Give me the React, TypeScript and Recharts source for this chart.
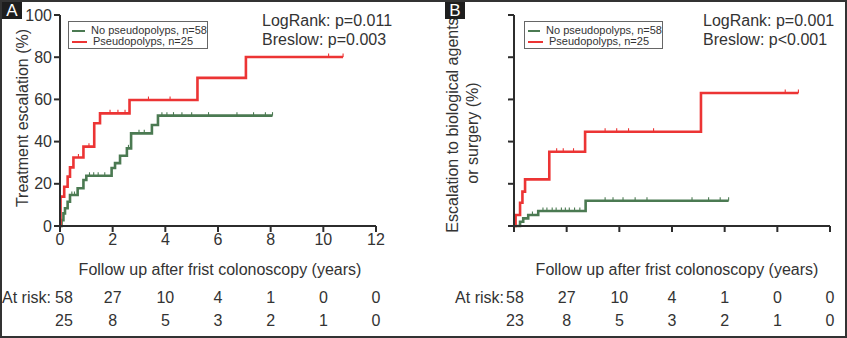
import React from 'react';
import { LineChart, Line, XAxis, YAxis } from 'recharts';

const RED = '#ec3434';
const GREEN = '#4b7a52';
const AXIS = '#2c2c2c';
const TEXT = '#333333';
const FONT = '"Liberation Sans", Arial, sans-serif';

const xTicks = [0, 2, 4, 6, 8, 10, 12];
const yTicks = [0, 20, 40, 60, 80, 100];

// Panel A: treatment escalation (step times in years, cumulative %)
const aNoTime = [0, 0.06, 0.13, 0.19, 0.29, 0.38, 0.67, 0.89, 1.0, 1.96, 2.09, 2.28, 2.54, 2.7, 3.49, 3.72, 8.07];
const aNoPct = [0, 2.8, 6, 8.4, 11.5, 14.7, 17.9, 21.8, 23.8, 27.5, 29.8, 33.3, 36.8, 43.9, 47.9, 52.3, 52.3];
const aNoCensor = [0.45, 0.55, 1.12, 1.28, 1.45, 1.7, 2.6, 3.0, 3.2, 3.87, 4.06, 4.31, 4.63, 5.0, 5.64, 6.72, 7.35, 7.8, 8.07];
const aPsTime = [0, 0.02, 0.16, 0.29, 0.38, 0.51, 0.89, 1.3, 1.52, 2.64, 5.22, 7.06, 10.75];
const aPsPct = [0, 13.9, 18.6, 23.4, 27.8, 32.5, 37.6, 48.7, 53.4, 59.7, 70.2, 80.1, 80.1];
const aPsCensor = [0.7, 1.1, 1.9, 2.2, 2.47, 3.36, 4.18, 10.2, 10.75];

// Panel B: escalation to biological agents or surgery
const bNoTime = [0, 0.23, 0.35, 0.54, 0.92, 2.72, 8.15];
const bNoPct = [0, 2, 3.6, 5.2, 7.1, 12, 12];
const bNoCensor = [0.7, 1.1, 1.25, 1.45, 1.6, 1.8, 1.95, 2.1, 2.3, 2.5, 3.46, 3.76, 4.14, 4.6, 5.05, 6.76, 7.39, 7.83, 8.15];
const bPsTime = [0, 0.06, 0.23, 0.32, 0.42, 1.34, 2.7, 7.1, 10.8];
const bPsPct = [0, 5.2, 11, 16.3, 22.1, 35.2, 44.7, 63, 63];
const bPsCensor = [1.62, 1.87, 2.26, 3.46, 3.9, 4.35, 5.3, 10.3, 10.8];

// numbers at risk
const riskA1 = ['58', '27', '10', '4', '1', '0', '0'];
const riskA2 = ['25', '8', '5', '3', '2', '1', '0'];
const riskB1 = ['58', '27', '10', '4', '1', '0', '0'];
const riskB2 = ['23', '8', '5', '3', '2', '1', '0'];

const noLabel = 'No pseudopolyps, n=58';
const psLabel = 'Pseudopolyps, n=25';

type Pt = { t: number; y: number; c: boolean };

const build = (times: number[], pcts: number[], censor: number[]): Pt[] => {
  const pts: Pt[] = times.map((t, i) => ({ t, y: pcts[i], c: false }));
  censor.forEach((t) => {
    let y = 0;
    times.forEach((s, i) => {
      if (s <= t) y = pcts[i];
    });
    pts.push({ t, y, c: true });
  });
  return pts.sort((a, b) => a.t - b.t);
};

const CensorDot = (props: any) => {
  const { cx, cy, payload, stroke, index } = props;
  if (!payload || !payload.c) return <g key={`n${index}`} />;
  return <line key={`c${index}`} x1={cx} x2={cx} y1={cy - 3.5} y2={cy} stroke={stroke} strokeWidth={1.1} />;
};

const EmptyTick = (props: any) => <g key={`e${props.index}`} />;

interface PanelProps {
  left: number;
  marginLeft: number;
  marginRight: number;
  labels: boolean;
  green: Pt[];
  red: Pt[];
}

const KmPanel: React.FC<PanelProps> = ({ left, marginLeft, marginRight, labels, green, red }) => (
  <div style={{ position: 'absolute', left, top: 0 }}>
    <LineChart width={420} height={260} margin={{ top: 15, right: marginRight, bottom: 0, left: marginLeft }}>
      <XAxis
        type="number"
        dataKey="t"
        domain={[0, 12]}
        ticks={xTicks}
        height={34}
        tickSize={6}
        tick={labels ? { fill: TEXT, fontSize: 16 } : EmptyTick}
        axisLine={{ stroke: AXIS, strokeWidth: 2 }}
        tickLine={{ stroke: AXIS, strokeWidth: 2 }}
        allowDuplicatedCategory={false}
      />
      <YAxis
        type="number"
        domain={[0, 100]}
        ticks={yTicks}
        width={60}
        tickSize={6}
        tick={labels ? { fill: TEXT, fontSize: 16 } : EmptyTick}
        axisLine={{ stroke: AXIS, strokeWidth: 2 }}
        tickLine={{ stroke: AXIS, strokeWidth: 2 }}
      />
      <Line data={green} dataKey="y" type="stepAfter" stroke={GREEN} strokeWidth={2.6} dot={CensorDot} activeDot={false} isAnimationActive={false} />
      <Line data={red} dataKey="y" type="stepAfter" stroke={RED} strokeWidth={2.6} dot={CensorDot} activeDot={false} isAnimationActive={false} />
    </LineChart>
  </div>
);

const KmLegend: React.FC<{ left: number; width: number }> = ({ left, width }) => (
  <div
    style={{
      position: 'absolute', left, top: 21, width, height: 28, boxSizing: 'border-box',
      border: '1px solid #666', background: '#fff', fontSize: 11, color: TEXT, lineHeight: '11px', paddingTop: 3,
      whiteSpace: 'nowrap',
    }}
  >
    {[[GREEN, noLabel], [RED, psLabel]].map(([c, l]) => (
      <div key={l} style={{ display: 'flex', alignItems: 'center', height: 11 }}>
        <span style={{ display: 'inline-block', width: 15, height: 2, background: c, marginLeft: 3, marginRight: 6 }} />
        <span>{l}</span>
      </div>
    ))}
  </div>
);

const colX = (plotLeft: number, i: number) => plotLeft + (xTicks[i] / 12) * 316;

export default function App() {
  return (
    <div style={{ position: 'absolute', left: 0, top: 0, width: 847, height: 338, background: '#fff', fontFamily: FONT, overflow: 'hidden' }}>
      <KmPanel left={0} marginLeft={0} marginRight={44} labels green={build(aNoTime, aNoPct, aNoCensor)} red={build(aPsTime, aPsPct, aPsCensor)} />
      <KmPanel left={420} marginLeft={34} marginRight={10} labels={false} green={build(bNoTime, bNoPct, bNoCensor)} red={build(bPsTime, bPsPct, bPsCensor)} />
      <KmLegend left={68} width={140} />
      <KmLegend left={524} width={139} />
      <svg width={847} height={338} style={{ position: 'absolute', left: 0, top: 0, pointerEvents: 'none' }}>
        <g fill={TEXT} fontSize={16}>
          <text transform="translate(22,118) rotate(-90)" textAnchor="middle" dy="0.35em">Treatment escalation (%)</text>
          <text transform="translate(452,125) rotate(-90)" textAnchor="middle" dy="0.35em">Escalation to biological agents</text>
          <text transform="translate(472,133) rotate(-90)" textAnchor="middle" dy="0.35em">or surgery (%)</text>
          <text x={220} y={275} textAnchor="middle">Follow up after frist colonoscopy (years)</text>
          <text x={677} y={275} textAnchor="middle">Follow up after frist colonoscopy (years)</text>
          <text x={262} y={26}>LogRank: p=0.011</text>
          <text x={262} y={45}>Breslow: p=0.003</text>
          <text x={703} y={26}>LogRank: p=0.001</text>
          <text x={703} y={45}>Breslow: p&lt;0.001</text>
          <text x={2} y={303}>At risk:</text>
          <text x={504} y={303} textAnchor="end">At risk:</text>
          {riskA1.map((v, i) => (
            <text key={`a1${i}`} x={colX(60, i) + (i === 0 ? 4 : 0)} y={303} textAnchor="middle">{v}</text>
          ))}
          {riskA2.map((v, i) => (
            <text key={`a2${i}`} x={colX(60, i) + (i === 0 ? 4 : 0)} y={326} textAnchor="middle">{v}</text>
          ))}
          {riskB1.map((v, i) => (
            <text key={`b1${i}`} x={colX(514, i) + (i === 0 ? 1 : 0)} y={303} textAnchor="middle">{v}</text>
          ))}
          {riskB2.map((v, i) => (
            <text key={`b2${i}`} x={colX(514, i) + (i === 0 ? 1 : 0)} y={326} textAnchor="middle">{v}</text>
          ))}
        </g>
        <rect x={2} y={1} width={20} height={18} fill="#1e1e1e" />
        <text x={12} y={16} textAnchor="middle" fill="#fff" fontSize={17}>A</text>
        <rect x={445} y={1} width={20} height={18} fill="#1e1e1e" />
        <text x={455} y={16} textAnchor="middle" fill="#fff" fontSize={17}>B</text>
        <rect x={1} y={1} width={845} height={336} fill="none" stroke="#333" strokeWidth={2} />
      </svg>
    </div>
  );
}
